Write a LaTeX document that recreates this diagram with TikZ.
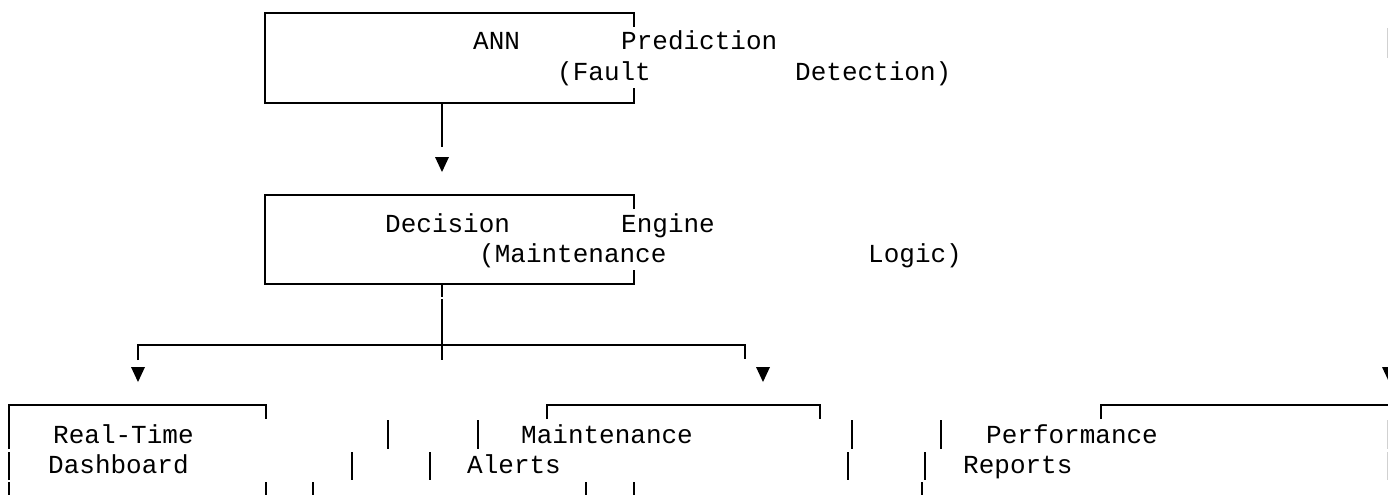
\documentclass[tikz,border=0pt]{standalone}
\usepackage{fontspec}
\newfontfamily\boxmono{Liberation Mono}
\begin{document}
\begin{tikzpicture}[x=1pt,y=-1pt,
  rule/.style={line width=1.8pt,line cap=butt},
  faint/.style={line width=1pt,draw=black!18},
  tip/.style={fill=black},
  word/.style={anchor=base west,inner sep=0pt,font=\boxmono\fontsize{26}{30}\selectfont}]
\useasboundingbox (0,0) rectangle (1388,495);
\clip (0,0) rectangle (1388,495);

% --- ANN prediction box ---
\coordinate (p1) at (265,13);
\draw[rule] (634,27) -- (634,13) -- (p1) -- (265,103) -- (634,103) -- (634,88);
\node[word] (ann)  at (473,50) {ANN};
\node[word] (pred) at (621,50) {Prediction};
\node[word] (flt)  at (557,80) {(Fault};
\node[word] (det)  at (795,80) {Detection)};

% stem and tip below the first box
\coordinate (s1) at (442,103);
\coordinate (s1e) at (442,147);
\draw[rule] (s1) -- (s1e);
\fill[tip] (435,157) -- (449,157) -- (442,172) -- cycle;

% --- decision engine box ---
\coordinate (p2) at (265,195);
\draw[rule] (634,209) -- (634,195) -- (p2) -- (265,284) -- (634,284) -- (634,270);
\node[word] (dec)  at (385,232) {Decision};
\node[word] (eng)  at (621,232) {Engine};
\node[word] (mnt)  at (479,262) {(Maintenance};
\node[word] (lgc)  at (868,262) {Logic)};

% stem and branch line
\coordinate (s2) at (442,284);
\coordinate (b0) at (442,345);
\draw[rule] (s2) -- (442,297);
\draw[rule] (442,299) -- (442,360);
\coordinate (bl) at (138,345);
\coordinate (br) at (745,345);
\draw[rule] (138,360) -- (bl) -- (br) -- (745,359);

% tips above the output boxes
\fill[tip] (131,367) -- (145,367) -- (138,382) -- cycle;
\fill[tip] (756,367) -- (770,367) -- (763,382) -- cycle;
\fill[tip] (1382,367) -- (1396,367) -- (1389,382) -- cycle;

% --- output boxes ---
\draw[rule] (9,449) -- (9,405) -- (266,405) -- (266,419);
\draw[rule] (9,452) -- (9,480);
\draw[rule] (9,482) -- (9,495);
\draw[rule] (266,482) -- (266,495);
\draw[rule] (547,419) -- (547,405) -- (820,405) -- (820,419);
\draw[rule] (1101,419) -- (1101,405) -- (1388,405);

% loose vertical bars
\foreach \x in {388,478,852,941} \draw[rule] (\x,420) -- (\x,449);
\foreach \x in {352,430,848,925} \draw[rule] (\x,452) -- (\x,480);
\foreach \x in {313,586,634,922} \draw[rule] (\x,482) -- (\x,495);

% faint bars on the right edge
\draw[faint] (1387,28) -- (1387,58);
\draw[faint] (1387,420) -- (1387,449);
\draw[faint] (1387,452) -- (1387,480);

% output labels
\node[word] (rt)  at (53,443)  {Real-Time};
\node[word] (ma)  at (521,443) {Maintenance};
\node[word] (pf)  at (986,443) {Performance};
\node[word] (db)  at (48,473)  {Dashboard};
\node[word] (al)  at (467,473) {Alerts};
\node[word] (rp)  at (963,473) {Reports};
\end{tikzpicture}
\end{document}
